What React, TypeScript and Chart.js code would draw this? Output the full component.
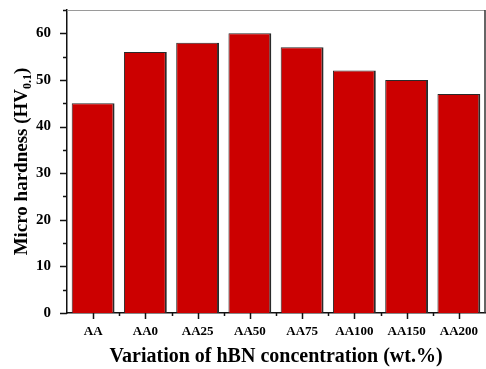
import React, { useEffect, useRef } from "react";
import { Chart, registerables } from "chart.js";

Chart.register(...registerables);

const categories = ["AA", "AA0", "AA25", "AA50", "AA75", "AA100", "AA150", "AA200"];
const hardness = [45, 56, 58, 60, 57, 52, 50, 47];
const yTicks = [0, 10, 20, 30, 40, 50, 60];
const yMinorTicks = [5, 15, 25, 35, 45, 55, 65];
const xTitle = "Variation of hBN concentration (wt.%)";
const yTitleMain = "Micro hardness (HV";
const yTitleSub = "0.1";
const yTitleEnd = ")";

const FONT = "'Liberation Serif', 'Times New Roman', serif";

export default function App() {
  const ref = useRef<HTMLCanvasElement | null>(null);

  useEffect(() => {
    document.body.style.margin = "0";
    const canvas = ref.current;
    if (!canvas) return;

    const decor = {
      id: "decor",
      afterDraw(chart: any) {
        const ctx = chart.ctx;
        const area = chart.chartArea;
        const xs = chart.scales.x;
        const ys = chart.scales.y;
        ctx.save();
        // frame top + right
        ctx.strokeStyle = "#9a9a9a";
        ctx.lineWidth = 1;
        ctx.beginPath();
        ctx.moveTo(area.left, area.top + 0.5);
        ctx.lineTo(area.right, area.top + 0.5);
        ctx.stroke();
        ctx.strokeStyle = "#333";
        ctx.lineWidth = 1.5;
        ctx.beginPath();
        ctx.moveTo(area.right, area.top);
        ctx.lineTo(area.right, area.bottom);
        ctx.stroke();
        // y ticks
        ctx.strokeStyle = "#111";
        ctx.lineWidth = 1.5;
        ctx.beginPath();
        for (const v of yTicks) {
          const y = Math.round(ys.getPixelForValue(v)) + 0.5;
          ctx.moveTo(area.left - 7, y);
          ctx.lineTo(area.left, y);
        }
        for (const v of yMinorTicks) {
          const y = Math.round(ys.getPixelForValue(v)) + 0.5;
          ctx.moveTo(area.left - 4, y);
          ctx.lineTo(area.left, y);
        }
        // x ticks
        for (let i = 0; i < categories.length; i++) {
          const x = Math.round(xs.getPixelForValue(i)) + 0.5;
          ctx.moveTo(x, area.bottom);
          ctx.lineTo(x, area.bottom + 6);
        }
        for (let i = 0; i < categories.length - 1; i++) {
          const x = Math.round(xs.getPixelForValue(i + 0.5)) + 0.5;
          ctx.moveTo(x, area.bottom);
          ctx.lineTo(x, area.bottom + 3);
        }
        ctx.stroke();

        // x title
        ctx.fillStyle = "#000";
        ctx.font = `bold 20px ${FONT}`;
        ctx.textAlign = "center";
        ctx.textBaseline = "alphabetic";
        ctx.fillText(xTitle, (area.left + area.right) / 2, 362);

        // y title with subscript
        const mainFont = `bold 19px ${FONT}`;
        const subFont = `bold 12px ${FONT}`;
        ctx.font = mainFont;
        const w1 = ctx.measureText(yTitleMain).width;
        const w3 = ctx.measureText(yTitleEnd).width;
        ctx.font = subFont;
        const w2 = ctx.measureText(yTitleSub).width;
        const total = w1 + w2 + w3;
        ctx.translate(27, (area.top + area.bottom) / 2);
        ctx.rotate(-Math.PI / 2);
        ctx.textAlign = "left";
        let x0 = -total / 2;
        ctx.font = mainFont;
        ctx.fillText(yTitleMain, x0, 0);
        x0 += w1;
        ctx.font = subFont;
        ctx.fillText(yTitleSub, x0, 4);
        x0 += w2;
        ctx.font = mainFont;
        ctx.fillText(yTitleEnd, x0, 0);
        ctx.restore();
      },
    };

    const chart = new Chart(canvas, {
      type: "bar",
      data: {
        labels: categories,
        datasets: [
          {
            data: hardness,
            backgroundColor: "#CC0000",
            borderColor: "#2a2a2a",
            borderWidth: { top: 1, right: 2, left: 1, bottom: 0 } as any,
            borderSkipped: false,
            categoryPercentage: 1,
            barPercentage: 0.82,
          },
        ],
      },
      options: {
        animation: false,
        responsive: false,
        maintainAspectRatio: false,
        layout: { padding: { top: 10, right: 1, left: 0, bottom: 0 } },
        plugins: {
          legend: { display: false },
          tooltip: { enabled: false },
          title: { display: false },
        },
        scales: {
          x: {
            grid: { display: false, drawTicks: false },
            border: { display: true, color: "#111", width: 1.5 },
            ticks: {
              color: "#000",
              font: { family: FONT, weight: "bold", size: 13 },
              padding: 11,
              maxRotation: 0,
              autoSkip: false,
            },
            afterFit(scale: any) {
              scale.height = 369 - 313;
              scale.paddingLeft = 0;
              scale.paddingRight = 0;
            },
          },
          y: {
            min: 0,
            max: 65,
            grid: { display: false, drawTicks: false },
            border: { display: true, color: "#111", width: 1.5 },
            afterBuildTicks(scale: any) {
              scale.ticks = yTicks.map((v) => ({ value: v }));
            },
            ticks: {
              color: "#000",
              font: { family: FONT, weight: "bold", size: 15 },
              padding: 16,
            },
            afterFit(scale: any) {
              scale.width = 67;
              scale.paddingTop = 0;
              scale.paddingBottom = 0;
            },
          },
        },
      },
      plugins: [decor],
    });
    return () => chart.destroy();
  }, []);

  return (
    <div style={{ position: "relative", width: 486, height: 369 }}>
      <canvas ref={ref} width={486} height={369} style={{ width: 486, height: 369 }} />
    </div>
  );
}
